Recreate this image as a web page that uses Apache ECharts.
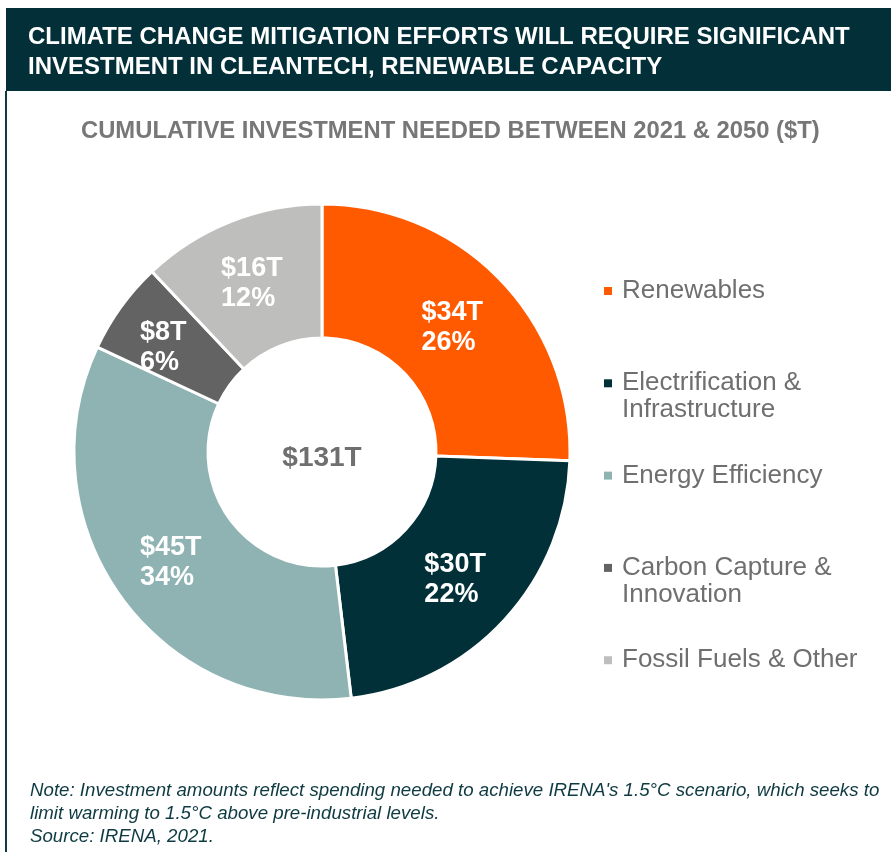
<!DOCTYPE html>
<html>
<head>
<meta charset="utf-8">
<script src="https://cdn.jsdelivr.net/npm/echarts@6/dist/echarts.min.js"></script>
<style>
html,body{margin:0;padding:0;background:#fff;}
#c{width:891px;height:852px;}
</style>
</head>
<body>
<div id="c"></div>
<script>
const categories = ['Renewables', 'Electrification & Infrastructure', 'Energy Efficiency', 'Carbon Capture & Innovation', 'Fossil Fuels & Other'];
const legendLabels = ['Renewables', 'Electrification &\nInfrastructure', 'Energy Efficiency', 'Carbon Capture &\nInnovation', 'Fossil Fuels & Other'];
const values = [34, 30, 45, 8, 16];
const valueLabels = ['$34T', '$30T', '$45T', '$8T', '$16T'];
const pctLabels = ['26%', '22%', '34%', '6%', '12%'];
const colors = ['#FF5A00', '#023039', '#8FB3B3', '#636363', '#BEBEBD'];
const totalLabel = '$131T';
const titleText = 'CLIMATE CHANGE MITIGATION EFFORTS WILL REQUIRE SIGNIFICANT\nINVESTMENT IN CLEANTECH, RENEWABLE CAPACITY';
const subtitleText = 'CUMULATIVE INVESTMENT NEEDED BETWEEN 2021 & 2050 ($T)';
const noteText = "Note: Investment amounts reflect spending needed to achieve IRENA's 1.5°C scenario, which seeks to\nlimit warming to 1.5°C above pre-industrial levels.\nSource: IRENA, 2021.";

const FONT = "'Liberation Sans', Arial, Helvetica, sans-serif";
const chart = echarts.init(document.getElementById('c'));

const seriesData = categories.map((name, i) => ({
  name: name,
  value: values[i],
  itemStyle: { color: colors[i] }
}));

chart.setOption({
  animation: false,
  backgroundColor: '#fff',
  title: [
    {
      text: titleText, left: 28, top: 22, padding: 0,
      textStyle: { color: '#fff', fontSize: 24, fontWeight: 'bold', fontFamily: FONT, lineHeight: 30 }
    },
    {
      text: subtitleText, left: 81, top: 119, padding: 0,
      textStyle: { color: '#777777', fontSize: 23.8, fontWeight: 'bold', fontFamily: FONT }
    },
    {
      text: noteText, left: 30, top: 779, padding: 0,
      textStyle: { color: '#0e3a42', fontSize: 18.7, fontStyle: 'italic', fontWeight: 'normal', fontFamily: FONT, lineHeight: 23 }
    }
  ],
  graphic: [
    { type: 'rect', shape: { x: 6, y: 8, width: 885, height: 83 }, style: { fill: '#022F38' }, z: -1 },
    { type: 'rect', shape: { x: 5, y: 91, width: 2, height: 761 }, style: { fill: '#0f3a43' }, z: -1 },
    {
      type: 'text', x: 322, y: 458,
      style: { text: totalLabel, fill: '#6f6f6f', font: 'bold 28px ' + FONT, textAlign: 'center', textVerticalAlign: 'middle' }
    }
  ],
  legend: {
    orient: 'vertical',
    left: 604, top: 250.5, padding: 0,
    icon: 'rect', itemWidth: 8, itemHeight: 8,
    itemGap: 11.3,
    itemStyle: { borderWidth: 0 },
    data: categories,
    formatter: name => {
      const t = legendLabels[categories.indexOf(name)];
      return '\n' + t + (t.indexOf('\n') >= 0 ? '' : '\n');
    },
    textStyle: { color: '#6f6f6f', fontSize: 26, fontFamily: FONT, lineHeight: 27, padding: [0, 0, 0, 5] }
  },
  series: [{
    type: 'pie',
    center: [322, 452],
    radius: [114, 248],
    startAngle: 90,
    clockwise: true,
    avoidLabelOverlap: false,
    itemStyle: { borderColor: '#fff', borderWidth: 3 },
    label: {
      show: true,
      position: 'inside',
      offset: [0, 3],
      formatter: p => '{a|' + valueLabels[p.dataIndex] + '}\n{a|' + pctLabels[p.dataIndex] + '}',
      rich: {
        a: { color: '#fff', fontSize: 27, fontWeight: 'bold', fontFamily: FONT, lineHeight: 30, width: 66, align: 'left' }
      }
    },
    labelLine: { show: false },
    emphasis: { disabled: true },
    data: seriesData
  }]
});
</script>
</body>
</html>
